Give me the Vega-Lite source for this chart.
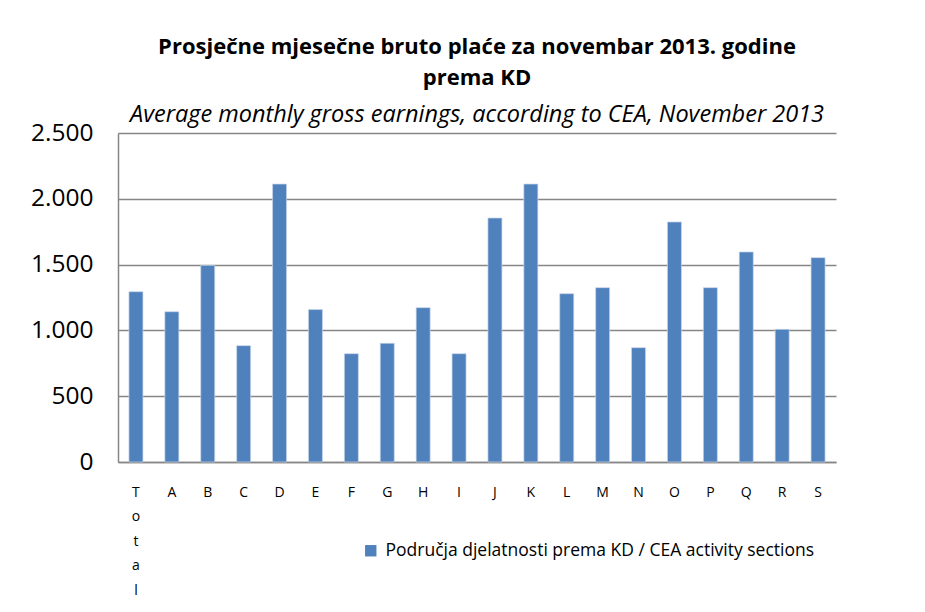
{
  "$schema": "https://vega.github.io/schema/vega-lite/v6.json",
  "width": 718,
  "height": 329,
  "autosize": {"type": "none"},
  "padding": {"left": 118, "top": 133, "right": 71, "bottom": 150},
  "background": "white",
  "title": {
    "text": ["Prosječne mjesečne bruto plaće  za novembar 2013.  godine", "prema KD"],
    "subtitle": "Average monthly gross earnings, according to CEA, November 2013",
    "anchor": "middle",
    "font": "Open Sans",
    "fontSize": 22,
    "fontWeight": "bold",
    "lineHeight": 31,
    "color": "black",
    "subtitleFont": "Open Sans",
    "subtitleFontSize": 23.5,
    "subtitleFontStyle": "italic",
    "subtitleColor": "black",
    "subtitlePadding": 13,
    "offset": -7
  },
  "data": {
    "values": [
      {"sekcija": "Total", "vrijednost": 1294, "serija": "Područja djelatnosti prema KD / CEA activity sections"},
      {"sekcija": "A", "vrijednost": 1142, "serija": "Područja djelatnosti prema KD / CEA activity sections"},
      {"sekcija": "B", "vrijednost": 1494, "serija": "Područja djelatnosti prema KD / CEA activity sections"},
      {"sekcija": "C", "vrijednost": 884, "serija": "Područja djelatnosti prema KD / CEA activity sections"},
      {"sekcija": "D", "vrijednost": 2112, "serija": "Područja djelatnosti prema KD / CEA activity sections"},
      {"sekcija": "E", "vrijednost": 1158, "serija": "Područja djelatnosti prema KD / CEA activity sections"},
      {"sekcija": "F", "vrijednost": 823, "serija": "Područja djelatnosti prema KD / CEA activity sections"},
      {"sekcija": "G", "vrijednost": 902, "serija": "Područja djelatnosti prema KD / CEA activity sections"},
      {"sekcija": "H", "vrijednost": 1173, "serija": "Područja djelatnosti prema KD / CEA activity sections"},
      {"sekcija": "I", "vrijednost": 823, "serija": "Područja djelatnosti prema KD / CEA activity sections"},
      {"sekcija": "J", "vrijednost": 1854, "serija": "Područja djelatnosti prema KD / CEA activity sections"},
      {"sekcija": "K", "vrijednost": 2112, "serija": "Područja djelatnosti prema KD / CEA activity sections"},
      {"sekcija": "L", "vrijednost": 1279, "serija": "Područja djelatnosti prema KD / CEA activity sections"},
      {"sekcija": "M", "vrijednost": 1325, "serija": "Područja djelatnosti prema KD / CEA activity sections"},
      {"sekcija": "N", "vrijednost": 869, "serija": "Područja djelatnosti prema KD / CEA activity sections"},
      {"sekcija": "O", "vrijednost": 1824, "serija": "Područja djelatnosti prema KD / CEA activity sections"},
      {"sekcija": "P", "vrijednost": 1325, "serija": "Područja djelatnosti prema KD / CEA activity sections"},
      {"sekcija": "Q", "vrijednost": 1596, "serija": "Područja djelatnosti prema KD / CEA activity sections"},
      {"sekcija": "R", "vrijednost": 1008, "serija": "Područja djelatnosti prema KD / CEA activity sections"},
      {"sekcija": "S", "vrijednost": 1553, "serija": "Područja djelatnosti prema KD / CEA activity sections"}
    ]
  },
  "mark": {"type": "bar", "stroke": "#c9d6ea", "strokeWidth": 0.7},
  "encoding": {
    "x": {
      "field": "sekcija",
      "type": "nominal",
      "sort": null,
      "scale": {"paddingInner": 0.61, "paddingOuter": 0.305},
      "axis": {
        "title": null,
        "labelAngle": 0,
        "labelFont": "Open Sans",
        "labelFontSize": 14,
        "labelColor": "black",
        "labelPadding": 23,
        "labelBaseline": "top",
        "labelLineHeight": 24.5,
        "labelExpr": "datum.value == 'Total' ? split(datum.value, '') : datum.value",
        "ticks": false,
        "domainColor": "#868686",
        "domainWidth": 1.5
      }
    },
    "y": {
      "field": "vrijednost",
      "type": "quantitative",
      "scale": {"domain": [0, 2500]},
      "axis": {
        "title": null,
        "values": [0, 500, 1000, 1500, 2000, 2500],
        "labelExpr": "replace(format(datum.value, ','), ',', '.')",
        "labelFont": "Open Sans",
        "labelFontSize": 24.5,
        "labelColor": "black",
        "labelPadding": 25,
        "ticks": false,
        "grid": true,
        "gridColor": "#868686",
        "gridWidth": 1.5,
        "domainColor": "#868686",
        "domainWidth": 1.5
      }
    },
    "color": {
      "field": "serija",
      "type": "nominal",
      "scale": {"range": ["#4F81BD"]},
      "legend": {
        "title": null,
        "orient": "none",
        "legendX": 244,
        "legendY": 409,
        "symbolType": "square",
        "symbolSize": 130,
        "symbolStrokeWidth": 0,
        "labelFont": "Open Sans",
        "labelFontSize": 17.5,
        "labelColor": "black",
        "labelLimit": 600,
        "labelOffset": 6
      }
    }
  },
  "config": {
    "view": {"stroke": null}
  }
}
